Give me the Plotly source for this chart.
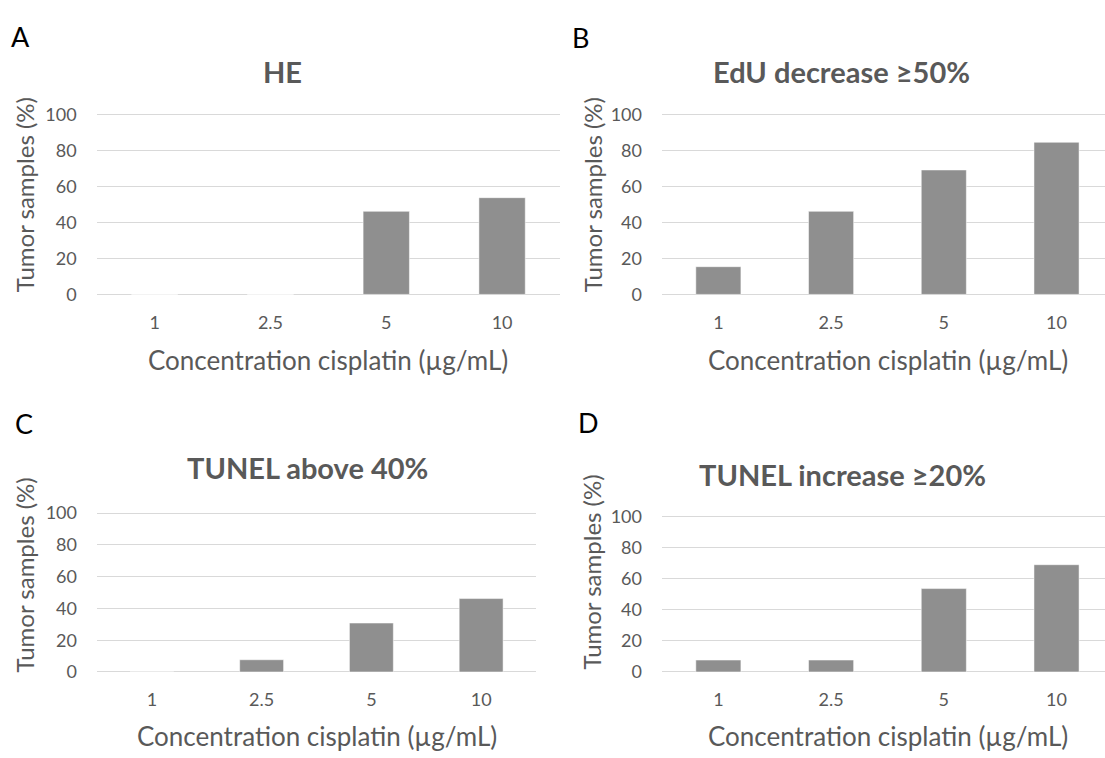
import plotly.graph_objects as go

W, H = 1105, 758

categories = ["1", "2.5", "5", "10"]
he_values = [0, 0, 46.2, 53.8]
edu_values = [15.4, 46.2, 69.2, 84.6]
tunel_above_values = [0, 7.7, 30.8, 46.2]
tunel_increase_values = [7.7, 7.7, 53.8, 69.2]

panel_titles = ["HE", "EdU decrease ≥50%", "TUNEL above 40%", "TUNEL increase ≥20%"]
panel_letters = ["A", "B", "C", "D"]
y_ticks = [0, 20, 40, 60, 80, 100]
x_title = "Concentration cisplatin (µg/mL)"
y_title = "Tumor samples (%)"

FONT = "Lato"
TXT = "#595959"
BAR = "#8f8f8f"
GRID = "#d9d9d9"
PAD = 0.8  # y-range padding so the edge gridlines are drawn


def px(x):
    return x / W


def py(y):
    return 1 - y / H


# panel geometry in pixels
panels = [
    dict(x0=96.7, x1=560, xmax=3.5, yt=107.3, yb=291.7,
         title=(282, 63), letter=(20, 27), ytitle=(24, 190), xtitle=(328, 359)),
    dict(x0=662, x1=1105, xmax=3.43, yt=107.3, yb=291.7,
         title=(841, 63), letter=(580, 28), ytitle=(592, 190), xtitle=(887.5, 359)),
    dict(x0=97, x1=536, xmax=3.5, yt=516, yb=679,
         title=(307, 469), letter=(24, 424), ytitle=(24, 580), xtitle=(316.5, 745)),
    dict(x0=662, x1=1105, xmax=3.43, yt=520, yb=679,
         title=(842, 476), letter=(588, 423), ytitle=(592, 577), xtitle=(887.5, 745)),
]
series = [he_values, edu_values, tunel_above_values, tunel_increase_values]

fig = go.Figure()
annotations = []
layout = {}
for i, (p, vals) in enumerate(zip(panels, series)):
    n = "" if i == 0 else str(i + 1)
    ppu = (p["yb"] - p["yt"]) / 100.0
    ytop = p["yt"] - PAD * ppu
    ybot = p["yb"] + PAD * ppu
    fig.add_trace(go.Bar(
        x=categories, y=vals, width=0.4,
        marker=dict(color=BAR, line=dict(color="rgba(255,255,255,0.5)", width=1)),
        xaxis="x" + n, yaxis="y" + n, showlegend=False, hoverinfo="x+y",
    ))
    layout["xaxis" + n] = dict(
        domain=[px(p["x0"]), px(p["x1"])], anchor="y" + n,
        type="category", range=[-0.5, p["xmax"]],
        showgrid=False, zeroline=False, showline=False, ticks="",
        tickfont=dict(family=FONT, size=18, color=TXT), ticklabelstandoff=14,
        fixedrange=True,
    )
    layout["yaxis" + n] = dict(
        domain=[py(ybot), py(ytop)], anchor="x" + n,
        range=[-PAD, 100 + PAD], tickvals=y_ticks,
        showgrid=True, gridcolor=GRID, gridwidth=1.3, zeroline=False, showline=False,
        ticks="", tickfont=dict(family=FONT, size=18, color=TXT), ticklabelstandoff=19,
        fixedrange=True,
    )
    annotations.append(dict(text="<b>%s</b>" % panel_titles[i], x=px(p["title"][0]), y=py(p["title"][1]),
                            xref="paper", yref="paper", showarrow=False, xanchor="center", yanchor="middle",
                            font=dict(family=FONT, size=29, color=TXT)))
    annotations.append(dict(text=panel_letters[i], x=px(p["letter"][0]), y=py(p["letter"][1]),
                            xref="paper", yref="paper", showarrow=False, xanchor="center", yanchor="middle",
                            font=dict(family=FONT, size=27, color="#000000")))
    annotations.append(dict(text=x_title, x=px(p["xtitle"][0]), y=py(p["xtitle"][1]),
                            xref="paper", yref="paper", showarrow=False, xanchor="center", yanchor="middle",
                            font=dict(family=FONT, size=26, color=TXT)))
    annotations.append(dict(text=y_title, x=px(p["ytitle"][0]), y=py(p["ytitle"][1]), textangle=-90,
                            xref="paper", yref="paper", showarrow=False, xanchor="center", yanchor="middle",
                            font=dict(family=FONT, size=24, color=TXT)))

fig.update_layout(
    width=W, height=H, margin=dict(l=0, r=0, t=0, b=0),
    paper_bgcolor="white", plot_bgcolor="white",
    annotations=annotations, **layout,
)
fig.write_html(
    "out.html",
    config={"displayModeBar": False},
    post_script="document.body.style.margin='0';document.body.style.overflow='hidden';",
)
